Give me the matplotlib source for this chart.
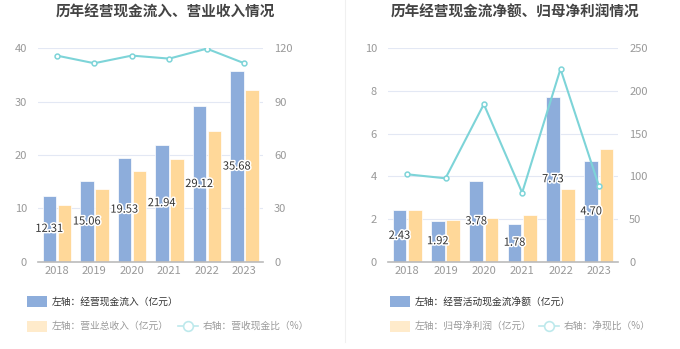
import matplotlib
matplotlib.use('Agg')
import matplotlib.pyplot as plt
import matplotlib.patheffects as pe
from matplotlib.lines import Line2D
import numpy as np

plt.rcParams['font.family'] = ['Noto Sans CJK SC', 'DejaVu Sans']

years = ['2018', '2019', '2020', '2021', '2022', '2023']

# left chart
cash_inflow = [12.31, 15.06, 19.53, 21.94, 29.12, 35.68]
revenue = [10.69, 13.57, 17.00, 19.30, 24.45, 32.20]
cash_ratio = [115.9, 111.6, 115.9, 114.2, 119.8, 111.6]

# right chart
net_cash = [2.43, 1.92, 3.78, 1.78, 7.73, 4.70]
net_profit = [2.40, 1.96, 2.05, 2.20, 3.42, 5.28]
net_ratio = [102.4, 97.7, 184.5, 80.9, 225.8, 89.1]

blue = '#8DADDB'
orange = '#FFD899'
teal = '#7DD4D8'
grid_c = '#E3E8F4'
tick_c = '#999999'

fig = plt.figure(figsize=(6.8, 3.49), dpi=100)
W, H = 680, 349


def draw_panel(rect, bars1, bars2, line, lticks, rticks, title, title_x, leg_x, labels):
    ax = fig.add_axes([rect[0] / W, 1 - rect[3] / H, (rect[2] - rect[0]) / W, (rect[3] - rect[1]) / H])
    x = np.arange(len(years))
    ax.bar(x - 0.2, bars1, width=0.36, color=blue, edgecolor='white', linewidth=0.5, zorder=2)
    ax.bar(x + 0.2, bars2, width=0.36, color=orange, edgecolor='white', linewidth=0.5, zorder=2)
    for xi, v in zip(x, bars1):
        ax.text(xi - 0.2, v / 2, f'{v:.2f}', ha='center', va='center', fontsize=8, color='#333333',
                zorder=5, path_effects=[pe.withStroke(linewidth=2.2, foreground='white')])
    ax.set_xlim(-0.5, len(years) - 0.5)
    ax.set_ylim(lticks[0], lticks[-1])
    ax.set_yticks(lticks)
    ax.set_xticks(x)
    ax.set_xticklabels(years)
    ax.grid(axis='y', color=grid_c, linewidth=0.8, zorder=0)
    for s in ['top', 'right', 'left']:
        ax.spines[s].set_visible(False)
    ax.spines['bottom'].set_color('#BBBBBB')
    ax.spines['bottom'].set_linewidth(1.2)
    ax.tick_params(axis='y', length=0, labelsize=8, colors=tick_c, pad=8)
    ax.tick_params(axis='x', length=0, labelsize=8, colors=tick_c, pad=3)

    ax2 = ax.twinx()
    ax2.plot(x, line, color=teal, linewidth=1.5, marker='o', markersize=3.5,
             markerfacecolor='white', markeredgecolor=teal, markeredgewidth=1.1, zorder=4)
    ax2.set_ylim(rticks[0], rticks[-1])
    ax2.set_yticks(rticks)
    for s in ax2.spines.values():
        s.set_visible(False)
    ax2.tick_params(axis='y', length=0, labelsize=8, colors=tick_c, pad=8)

    fig.text(title_x / W, 1 - 12 / H, title, ha='center', va='center', fontsize=10.5,
             fontweight='bold', color='#444444')

    # legend
    fig.patches.append(plt.Rectangle((leg_x / W, 1 - 307 / H), 20 / W, 11 / H, transform=fig.transFigure,
                                     facecolor=blue, edgecolor='none'))
    fig.text((leg_x + 25) / W, 1 - 301.5 / H, labels[0], ha='left', va='center', fontsize=7, color='#333333')
    fig.patches.append(plt.Rectangle((leg_x / W, 1 - 331.5 / H), 20 / W, 11 / H, transform=fig.transFigure,
                                     facecolor='#FFEBCB', edgecolor='none'))
    fig.text((leg_x + 25) / W, 1 - 326 / H, labels[1], ha='left', va='center', fontsize=7, color='#999999')
    lx = leg_x + labels[3]
    fig.add_artist(Line2D([lx / W, (lx + 20) / W], [1 - 326 / H, 1 - 326 / H], color='#BDE9EC', linewidth=1.2,
                          transform=fig.transFigure))
    fig.add_artist(Line2D([(lx + 10) / W], [1 - 326 / H], color='#BDE9EC', marker='o', markersize=7,
                          markerfacecolor='white', markeredgewidth=1.2, transform=fig.transFigure))
    fig.text((lx + 25) / W, 1 - 326 / H, labels[2], ha='left', va='center', fontsize=7, color='#999999')
    return ax, ax2


draw_panel((38, 48.3, 263, 261.7), cash_inflow, revenue, cash_ratio,
           [0, 10, 20, 30, 40], [0, 30, 60, 90, 120],
           '历年经营现金流入、营业收入情况', 165, 27,
           ['左轴：经营现金流入（亿元）', '左轴：营业总收入（亿元）', '右轴：营收现金比（%）', 151])

draw_panel((388, 48.3, 618, 261.7), net_cash, net_profit, net_ratio,
           [0, 2, 4, 6, 8, 10], [0, 50, 100, 150, 200, 250],
           '历年经营现金流净额、归母净利润情况', 515, 390,
           ['左轴：经营活动现金流净额（亿元）', '左轴：归母净利润（亿元）', '右轴：净现比（%）', 149])

fig.add_artist(Line2D([345 / W, 345 / W], [0.02, 1.0], color='#F0F0F0', linewidth=0.8, transform=fig.transFigure))

fig.savefig('out.png', dpi=100)
